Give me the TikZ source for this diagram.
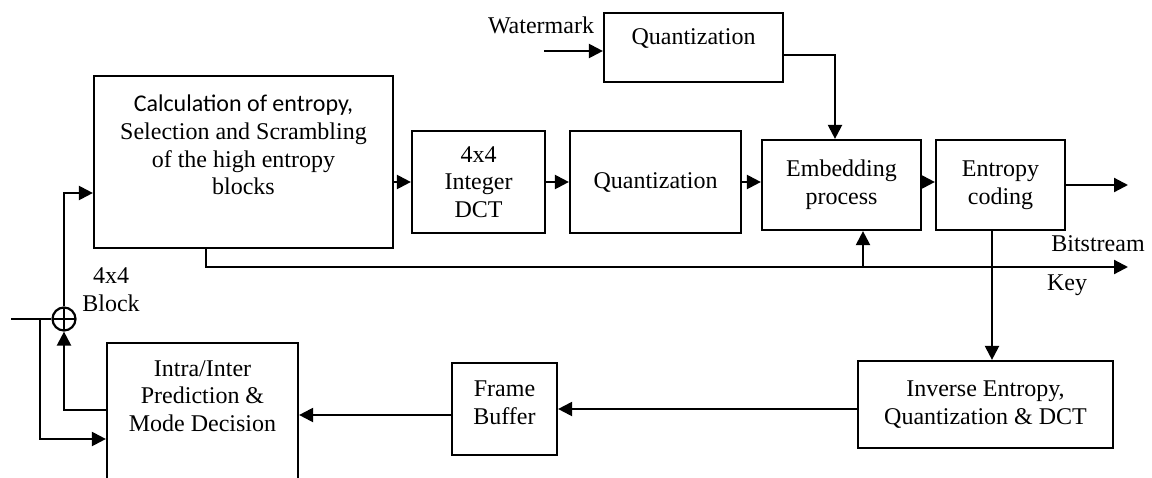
\documentclass[tikz,border=0pt]{standalone}
\usepackage{fontspec}
\setmainfont{Liberation Serif}
\newfontfamily\calfont{Carlito}
\usetikzlibrary{arrows.meta,positioning,calc}

\begin{document}
\begin{tikzpicture}[x=0.5pt,y=-0.5pt,line width=1.1pt,
  font=\fontsize{12}{13.8}\selectfont,
  >={Triangle[length=7pt,width=7pt]},
  blk/.style={draw,align=center,inner sep=2pt},
  txt/.style={align=center,inner sep=0pt}]
  \path[use as bounding box] (0,0) rectangle (1152,477);
  \clip (0,0) rectangle (1152,477);

  \node (scr) [blk,minimum width=149.5pt,minimum height=86pt] at (243.5,162) {};
  \node (scrtxt) [txt] at ([yshift=8.5pt]scr.center)
    {{\calfont Calculation of entropy,}\\Selection and Scrambling\\of the high entropy\\blocks};
  \node (wq) [blk,minimum width=89.5pt,minimum height=34.5pt] at (693.5,47.5) {};
  \node (wqtxt) [txt] at ([yshift=4.75pt]wq.center) {Quantization};
  \node (dct) [blk,minimum width=66.5pt,minimum height=51pt] at (478.5,182) {4x4\\Integer\\DCT};
  \node (qnt) [blk,minimum width=85.5pt,minimum height=51pt] at (655.5,182) {Quantization};
  \node (emb) [blk,minimum width=79.5pt,minimum height=45pt] at (841.5,185) {Embedding\\process};
  \node (ent) [blk,minimum width=64.5pt,minimum height=45pt] at (1000.5,185) {Entropy\\coding};
  \node (inv) [blk,minimum width=127.5pt,minimum height=43.5pt] at (985.5,404.5) {Inverse Entropy,\\Quantization \& DCT};
  \node (fb) [blk,minimum width=52.5pt,minimum height=46pt] at (504.5,409) {};
  \node (fbtxt) [txt] at ([yshift=3pt]fb.center) {Frame\\Buffer};
  \node (intra) [blk,minimum width=95.5pt,minimum height=73.5pt] at (202.5,416.5) {};
  \node (intratxt) [txt] at ([yshift=10.25pt]intra.center) {Intra/Inter\\Prediction \&\\Mode Decision};
  \node (sum) [circle,draw,minimum size=11.5pt,inner sep=0pt,
    path picture={\draw (path picture bounding box.north) -- (path picture bounding box.south)
      (path picture bounding box.west) -- (path picture bounding box.east);}] at (64,319) {};

  \coordinate (in) at (11,319);
  \coordinate (br) at (40,319);
  \coordinate (wm) at (544,51);
  \coordinate (bs) at (1128,185);
  \coordinate (key) at (1128,267);

  \node (wmlbl) [txt] at (541,25) {Watermark};
  \node (blklbl) [txt] at (111,290) {4x4\\Block};
  \node (bslbl) [txt] at (1098,244) {Bitstream};
  \node (keylbl) [txt] at (1067,285) {Key};

  \draw (in) -- (sum.west);
  \draw[->] (br) |- ([yshift=-11.25pt]intra.west);
  \draw[->] ([yshift=3.25pt]intra.west) -| (sum.south);
  \draw[->] (sum.north) |- ([yshift=-15.5pt]scr.west);
  \draw[->] (scr.east |- dct.west) -- (dct.west);
  \draw[->] (dct.east) -- (qnt.west);
  \draw[->] (qnt.east) -- (qnt.east -| emb.west);
  \draw[->] (emb.east |- qnt.east) -- (qnt.east -| ent.west);
  \draw[->] (ent.east) -- (bs);
  \draw[->] (wm) -- (wm -| wq.west);
  \draw[->] ([yshift=-3.75pt]wq.east) -| ([xshift=-3.25pt]emb.north);
  \draw[->] ([xshift=-18.75pt]scr.south) |- (key);
  \draw[->] ([xshift=10.75pt]emb.south |- key) -- ([xshift=10.75pt]emb.south);
  \draw[->] ([xshift=-4.25pt]ent.south) -- ([xshift=-4.25pt]ent.south |- inv.north);
  \draw[->] (fb.east -| inv.west) -- (fb.east);
  \draw[->] ([yshift=-3pt]fb.west) -- ([yshift=-3pt]fb.west -| intra.east);
\end{tikzpicture}
\end{document}
